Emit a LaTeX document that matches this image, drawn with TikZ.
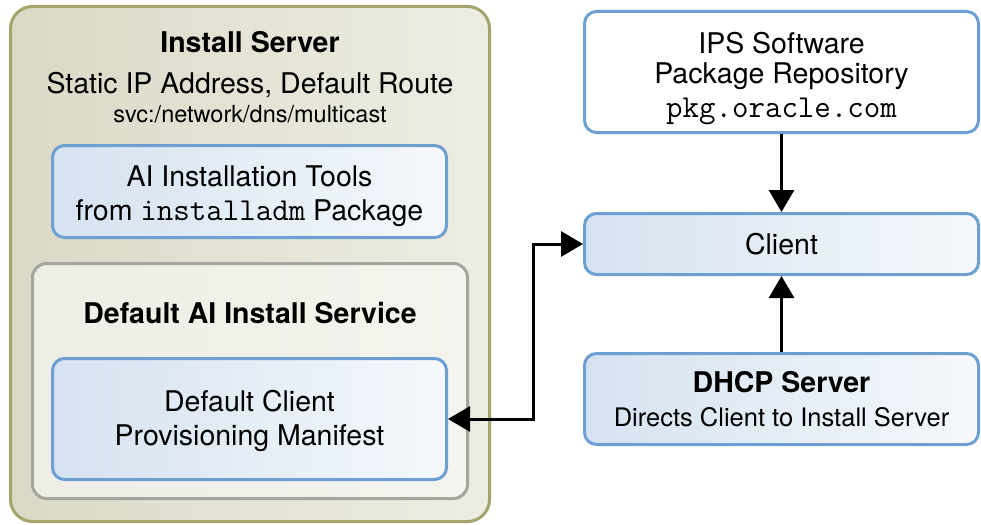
\documentclass[tikz,border=0pt]{standalone}
\usepackage{fontspec}
\setmainfont{TeX Gyre Heros}
\usetikzlibrary{arrows.meta}
\definecolor{boxblue}{HTML}{6E9FD2}
\definecolor{blueL}{HTML}{D5E2F0}
\definecolor{blueR}{HTML}{F5F8FC}
\definecolor{olive}{HTML}{A4A56C}
\definecolor{beigeL}{HTML}{DAD9C6}
\definecolor{beigeR}{HTML}{EEEDE4}
\definecolor{svcgray}{HTML}{A5A5A0}
\definecolor{svcL}{HTML}{EEEEE6}
\definecolor{svcR}{HTML}{F4F4EE}
\newcommand{\mainsz}{\fontsize{28.5}{34}\selectfont}
\newcommand{\monosz}{\fontsize{32}{34}\selectfont\ttfamily}
\tikzset{
  bluebox/.style={draw=boxblue, line width=3pt, rounded corners=12pt,
    left color=blueL, right color=blueR, inner sep=0pt,
    align=center, font=\mainsz},
  whitebox/.style={bluebox, fill=white, left color=white, right color=white},
  outerbox/.style={draw=olive, line width=3pt, rounded corners=22pt,
    left color=beigeL, right color=beigeR, inner sep=0pt},
  svcbox/.style={draw=svcgray, line width=3pt, rounded corners=14pt,
    left color=svcL, right color=svcR, inner sep=0pt},
  label/.style={inner sep=0pt, anchor=base, font=\mainsz},
  tipT/.tip={Triangle[length=22pt,width=25pt]},
  conn/.style={line width=3pt, -tipT},
  dconn/.style={line width=3pt, tipT-tipT},
}
\begin{document}
\begin{tikzpicture}[x=1pt,y=-1pt]
\useasboundingbox (0,0) rectangle (981,524);
% install server
\node[outerbox, minimum width=479pt, minimum height=515pt] (server) at (250,264) {};
\node[label, font=\mainsz\bfseries] (stitle) at (250,53) {Install Server};
\node[label] (sip) at (250,94) {Static IP Address, Default Route};
\node[label, font=\fontsize{23.5}{28}\selectfont] (svc) at (250,122) {svc:/network/dns/multicast};
\node[bluebox, minimum width=394pt, minimum height=92pt] (tools) at (249.5,191.5)
  {\rule{0pt}{31pt}AI Installation Tools\\from {\monosz installadm} Package};
\node[svcbox, minimum width=435pt, minimum height=235pt] (service) at (250,381) {};
\node[label, font=\mainsz\bfseries] (svctitle) at (250,323) {Default AI Install Service};
\node[bluebox, minimum width=394pt, minimum height=121pt] (manifest) at (249.5,419)
  {\rule{0pt}{25pt}Default Client\\Provisioning Manifest};
% right column
\node[whitebox, minimum width=394pt, minimum height=121pt] (ips) at (781.5,72)
  {\rule{0pt}{35pt}IPS Software\\[-4pt]Package Repository\\{\monosz pkg.oracle.com}};
\node[bluebox, minimum width=394pt, minimum height=61pt] (client) at (781.5,244) {Client};
\node[bluebox, minimum width=394pt, minimum height=91pt] (dhcp) at (781.5,399)
  {{\bfseries DHCP Server}\\{\fontsize{25.5}{30}\selectfont Directs Client to Install Server}};
% connectors
\coordinate (bend) at (533,244);
\draw[conn] (ips.south) -- (client.north);
\draw[conn] (dhcp.north) -- (client.south);
\draw[dconn] (client.west) -- (bend) |- (manifest.east);
\end{tikzpicture}
\end{document}
